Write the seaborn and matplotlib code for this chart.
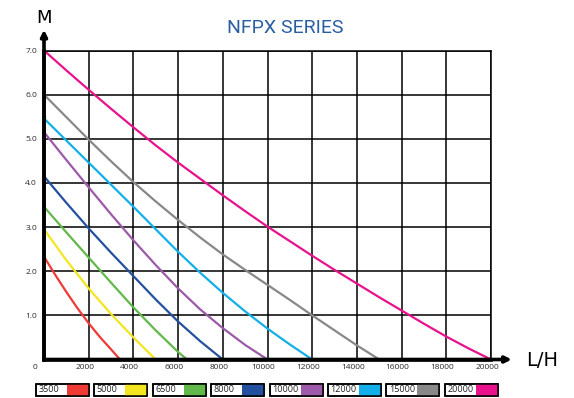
#Pump curves (head vs flow) for the NFPX series, redrawn with seaborn
import pandas as pd
import matplotlib
matplotlib.use("Agg")
import matplotlib.pyplot as plt
import seaborn as sns
from matplotlib.patches import Rectangle
from matplotlib.transforms import ScaledTranslation

# ----- data -----
models = ["3500", "5000", "6500", "8000", "10000", "12000", "15000", "20000"]
colors = ["#ee3b35", "#f3e620", "#62b84a", "#24519f", "#9c5aa8", "#13afe8", "#888888", "#e8128c"]

flow_3500 = [0, 500, 1000, 1500, 2000, 2500, 3000, 3400]
head_3500 = [2.33, 1.92, 1.53, 1.16, 0.82, 0.51, 0.23, 0.0]

flow_5000 = [0, 1000, 2000, 3000, 4000, 5000]
head_5000 = [2.95, 2.25, 1.61, 1.03, 0.50, 0.0]

flow_6500 = [0, 1000, 2000, 3000, 4000, 5000, 6000, 6400]
head_6500 = [3.46, 2.88, 2.31, 1.74, 1.18, 0.66, 0.17, 0.0]

flow_8000 = [0, 1000, 2000, 3000, 4000, 5000, 6000, 7000, 8000]
head_8000 = [4.15, 3.55, 2.97, 2.42, 1.89, 1.36, 0.86, 0.41, 0.0]

flow_10000 = [0, 1000, 2000, 3000, 4000, 5000, 6000, 7000, 8000, 9000, 10000]
head_10000 = [5.15, 4.52, 3.90, 3.29, 2.70, 2.14, 1.61, 1.13, 0.71, 0.33, 0.0]

flow_12000 = [0, 1000, 2000, 3000, 4000, 5000, 6000, 7000, 8000, 9000, 10000, 11000, 12000]
head_12000 = [5.46, 4.96, 4.46, 3.96, 3.46, 2.95, 2.44, 1.96, 1.51, 1.09, 0.70, 0.34, 0.0]

flow_15000 = [0, 1000, 2000, 3000, 4000, 5000, 6000, 7000, 8000, 9000, 10000, 11000, 12000, 13000, 14000, 15000]
head_15000 = [6.0, 5.49, 4.98, 4.49, 4.02, 3.58, 3.16, 2.76, 2.38, 2.03, 1.69, 1.35, 1.0, 0.66, 0.32, 0.0]

flow_20000 = [0, 1000, 2000, 3000, 4000, 5000, 6000, 7000, 8000, 9000, 10000,
              11000, 12000, 13000, 14000, 15000, 16000, 17000, 18000, 19000, 20000]
head_20000 = [7.0, 6.55, 6.11, 5.68, 5.26, 4.85, 4.46, 4.09, 3.72, 3.36, 3.01,
              2.68, 2.35, 2.03, 1.72, 1.41, 1.11, 0.81, 0.52, 0.25, 0.0]

x_ticks = [0, 2000, 4000, 6000, 8000, 10000, 12000, 14000, 16000, 18000, 20000]
y_ticks = [1.0, 2.0, 3.0, 4.0, 5.0, 6.0, 7.0]

flows = [flow_3500, flow_5000, flow_6500, flow_8000, flow_10000, flow_12000, flow_15000, flow_20000]
heads = [head_3500, head_5000, head_6500, head_8000, head_10000, head_12000, head_15000, head_20000]

frames = []
for m, f, h in zip(models, flows, heads):
    frames.append(pd.DataFrame({"flow": f, "head": h, "model": m}))
df = pd.concat(frames, ignore_index=True)

# ----- figure -----
sns.set_style("white")
plt.rcParams["font.family"] = ["Open Sans", "DejaVu Sans"]

W, H = 574, 398
fig = plt.figure(figsize=(W / 100, H / 100), dpi=100)

def fx(x):  # pixel -> figure coords
    return x / W

def fy(y):
    return 1 - y / H

ax = fig.add_axes([fx(44), fy(359.5), (491 - 44) / W, (359.5 - 50.5) / H])

# grid first, curves on top
ax.set_xlim(0, 20000)
ax.set_ylim(0, 7)
ax.set_xticks(x_ticks)
ax.set_yticks(y_ticks)
ax.grid(True, color="black", linewidth=1.1)
ax.set_axisbelow(True)

sns.lineplot(data=df, x="flow", y="head", hue="model", hue_order=models,
             palette=colors, linewidth=1.6, legend=False, sort=False, ax=ax)

ax.set_xlabel("")
ax.set_ylabel("")
ax.set_xticklabels([str(t) for t in x_ticks])
ax.set_yticklabels([f"{t:.1f}" for t in y_ticks])
ax.tick_params(axis="both", length=0, labelsize=6, colors="#2a2a2a")
ax.tick_params(axis="y", pad=5)
ax.tick_params(axis="x", pad=3)

# tick labels in the reference sit a bit left of the grid lines
for i, lab in enumerate(ax.get_xticklabels()):
    dx = -9 if i == 0 else -4
    lab.set_transform(lab.get_transform() + ScaledTranslation(dx / 100, 0, fig.dpi_scale_trans))

for side in ["top", "right"]:
    ax.spines[side].set_linewidth(1.1)
    ax.spines[side].set_color("black")
for side in ["left", "bottom"]:
    ax.spines[side].set_linewidth(2.6)
    ax.spines[side].set_color("black")

# axis arrows
ax.annotate("", xy=(0, 7.47), xytext=(0, 0), annotation_clip=False,
            arrowprops=dict(arrowstyle="-|>", lw=2.6, color="black", mutation_scale=9,
                            shrinkA=0, shrinkB=0))
ax.annotate("", xy=(20930, 0), xytext=(0, 0), annotation_clip=False,
            arrowprops=dict(arrowstyle="-|>", lw=2.6, color="black", mutation_scale=9,
                            shrinkA=0, shrinkB=0))

# titles / axis names
fig.text(fx(285), fy(28), "NFPX SERIES", ha="center", va="center", fontsize=14,
         color="#2a5ea3", family=["Roboto", "DejaVu Sans"])
fig.text(fx(43.5), fy(18), "M", ha="center", va="center", fontsize=13,
         family=["DejaVu Sans"], color="black")
fig.text(fx(542), fy(361), "L/H", ha="center", va="center", fontsize=14,
         family=["DejaVu Sans"], color="black")

# custom legend boxes along the bottom
box_w, box_h = 53, 12
for i, (m, c) in enumerate(zip(models, colors)):
    x0 = 36 + i * 58.4
    y_top = 383.5
    fig.add_artist(Rectangle((fx(x0), fy(y_top + box_h)), box_w / W, box_h / H,
                             transform=fig.transFigure, facecolor="white",
                             edgecolor="black", linewidth=1.1))
    fig.add_artist(Rectangle((fx(x0 + box_w - 22), fy(y_top + box_h)), 22 / W, box_h / H,
                             transform=fig.transFigure, facecolor=c,
                             edgecolor="none", linewidth=0))
    fig.add_artist(Rectangle((fx(x0), fy(y_top + box_h)), box_w / W, box_h / H,
                             transform=fig.transFigure, facecolor="none",
                             edgecolor="black", linewidth=1.1))
    fig.text(fx(x0 + 2.5), fy(y_top + box_h / 2 + 0.5), m, ha="left", va="center",
             fontsize=6.5, color="#222222")

fig.savefig("out.png", dpi=100)
